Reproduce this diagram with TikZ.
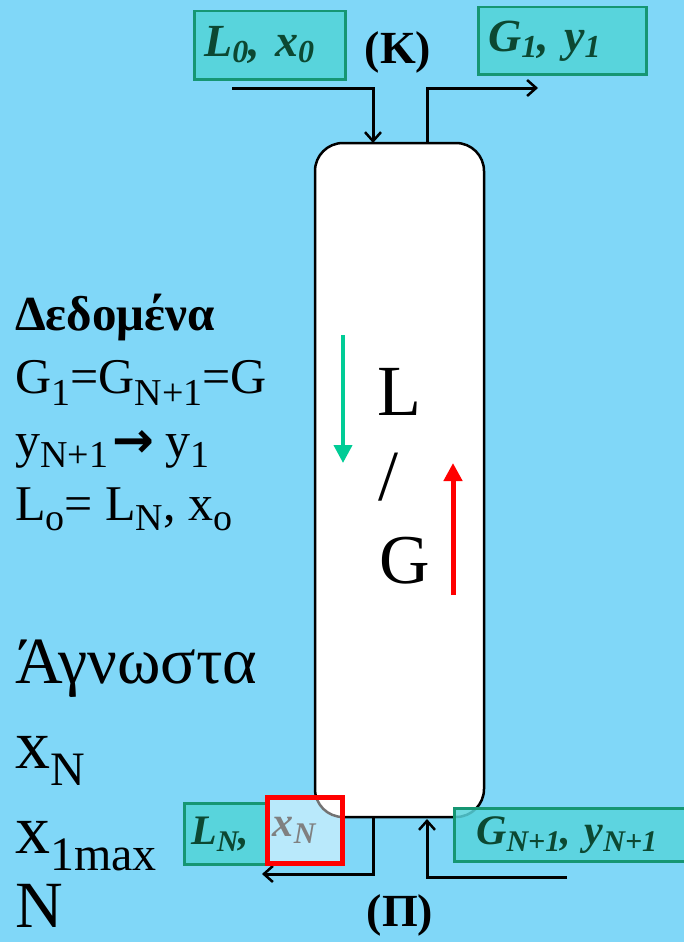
\documentclass[tikz,border=0pt]{standalone}
\usepackage{fontspec}
\setmainfont{Liberation Serif}
\newfontfamily\dejavu{DejaVu Sans}
\usetikzlibrary{arrows.meta}
\definecolor{bg}{RGB}{128,215,248}
\definecolor{boxfill}{RGB}{88,212,220}
\definecolor{boxline}{RGB}{22,150,115}
\definecolor{boxtext}{RGB}{12,72,50}
\definecolor{lgreen}{RGB}{0,204,150}
\newcommand\fsz[1]{\fontsize{#1}{#1}\selectfont}
\newcommand\sbx[3]{\raisebox{-#1pt}{\fsz{#2}#3}}
\tikzset{
  lbl/.style={draw=boxline, line width=2.5pt, fill=boxfill, text=boxtext,
    font=\fsz{46}\bfseries\itshape, anchor=north west, inner sep=0pt, align=left},
  blbl/.style={lbl, font=\fsz{42}\bfseries\itshape},
  conn/.style={draw=black, line width=3pt, -{Straight Barb[length=9pt,width=16pt,line width=2.5pt]}},
  plain/.style={anchor=base west, inner sep=0pt, text=black},
  colbox/.style={draw=black, line width=2.5pt, fill=white, rounded corners=28pt,
    minimum width=169pt, minimum height=674pt, inner sep=0pt},
}
\begin{document}
\begin{tikzpicture}[x=1pt,y=-1pt]
\useasboundingbox (0,0) rectangle (684,942);
\fill[bg] (0,0) rectangle (684,942);

% column
\node[colbox] (col) at (399.5,480) {};

% top boxes
\node[lbl, minimum width=151pt, minimum height=68pt, text width=131pt] (l0) at (193,10)
  {\hspace*{0pt}L\sbx{6}{32}{0}, x\sbx{6}{32}{0}};
\node[lbl, minimum width=168pt, minimum height=67pt, text width=148pt] (g1) at (477,6)
  {G\sbx{6}{32}{1}, y\sbx{6}{32}{1}};
\node[inner sep=0pt, font=\fsz{46}\bfseries] (K) at (398,52) {(K)};

% top connectors
\coordinate (inS) at (232,88);
\coordinate (inE) at (373,143);
\coordinate (outS) at (427,143);
\coordinate (outE) at (538,88);
\draw[conn] (inS) -| (inE);
\draw[conn] (outS) |- (outE);

% bottom connectors
\coordinate (botS) at (373,817);
\coordinate (botE) at (262,874);
\coordinate (btmS) at (567,877);
\coordinate (btmE) at (427,819);
\draw[conn] (botS) |- (botE);
\draw[conn] (btmS) -| (btmE);

% bottom boxes
\node[blbl, minimum width=82pt, minimum height=61pt, text width=72pt] (ln) at (183,802)
  {\hspace*{2pt}L\sbx{7}{30}{N},};
\node[draw=red, line width=4.5pt, fill=white, fill opacity=0.45, text opacity=1,
  anchor=north west, minimum width=75pt, minimum height=66pt, inner sep=0pt,
  text width=70pt, align=left, font=\fsz{42}\bfseries\itshape, text=gray] (xn) at (265,795)
  {\hspace*{3pt}x\sbx{7}{30}{N}};
\node[blbl, fill opacity=0.85, text opacity=1, minimum width=250pt, minimum height=53pt, text width=230pt] (gn) at (453,807)
  {\hspace*{12pt}G\sbx{7}{30}{N+1}, y\sbx{7}{30}{N+1}};
\node[inner sep=0pt, font=\fsz{46}\bfseries] (P) at (400,915) {(Π)};

% inside column
\coordinate (ga) at (343,335);
\coordinate (gb) at (343,463);
\coordinate (ra) at (453,595);
\coordinate (rb) at (453,463);
\draw[lgreen, line width=4pt, -{Triangle[width=18pt,length=18pt]}] (ga) -- (gb);
\draw[red, line width=5pt, -{Triangle[width=18pt,length=18pt]}] (ra) -- (rb);
\node[plain, font=\fsz{72}] (tL) at (377,415) {L};
\node[plain, font=\fsz{72}] (tS) at (378,500) {/};
\node[plain, font=\fsz{70}] (tG) at (379,583) {G};

% left text
\node[plain, font=\fsz{49}\bfseries] (ded) at (15,330) {Δεδομένα};
\node[plain, font=\fsz{50}] (e1) at (15,393) {G\sbx{12}{38}{1}=G\sbx{12}{38}{N+1}=G};
\node[plain, font=\fsz{50}] (e2) at (15,457) {y\sbx{10}{38}{N+1}\hspace{4pt}{\dejavu\bfseries\fsz{50}→}\hspace{12pt}y\sbx{10}{38}{1}};
\node[plain, font=\fsz{50}] (e3) at (15,520) {L\sbx{10}{38}{o}= L\sbx{10}{38}{N}, x\sbx{10}{38}{o}};
\node[plain, font=\fsz{66}] (agn) at (15,683) {Άγνωστα};
\node[plain, font=\fsz{70}] (u1) at (15,768) {x\sbx{17}{48}{N}};
\node[plain, font=\fsz{70}] (u2) at (15,853) {x\sbx{17}{48}{1max}};
\node[plain, font=\fsz{66}] (u3) at (15,927) {N};
\end{tikzpicture}
\end{document}
